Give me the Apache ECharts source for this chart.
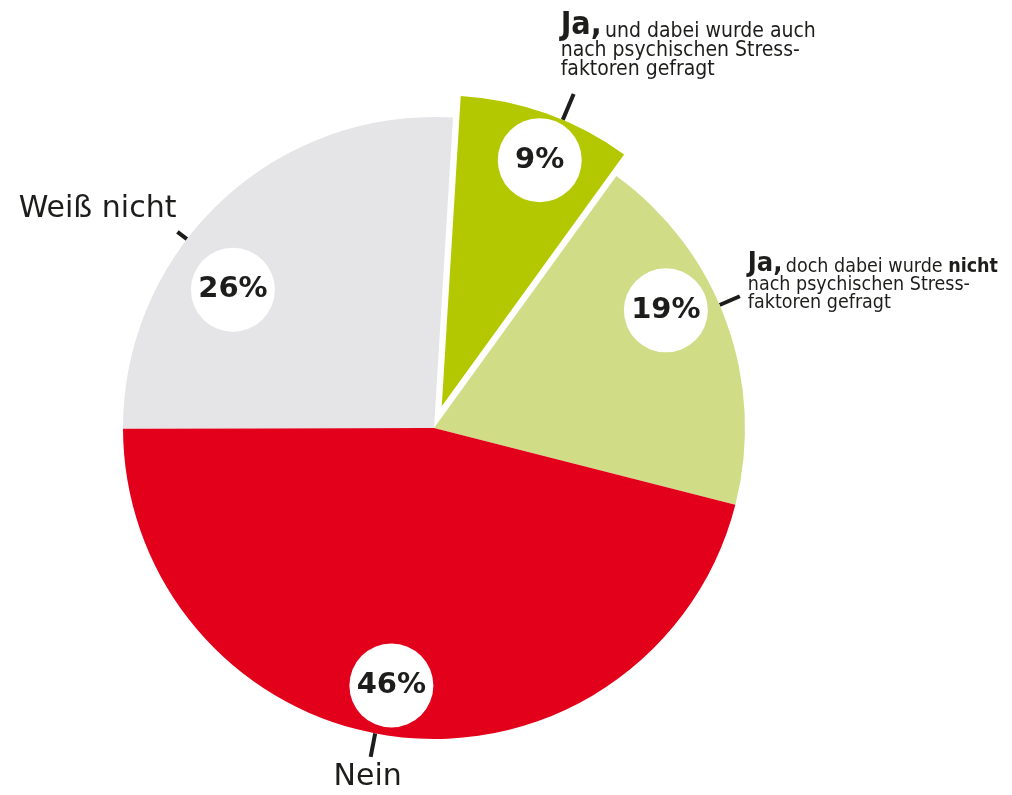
<!DOCTYPE html>
<html>
<head>
<meta charset="utf-8">
<script src="https://cdn.jsdelivr.net/npm/echarts@6/dist/echarts.min.js"></script>
<style>
  html, body { margin: 0; padding: 0; background: #ffffff; }
  #chart { width: 1012px; height: 795px; }
</style>
</head>
<body>
<div id="chart"></div>
<script>
// Survey shares (percent), clockwise from the top
const categories = [
  'Ja, und dabei wurde auch nach psychischen Stressfaktoren gefragt',
  'Ja, doch dabei wurde nicht nach psychischen Stressfaktoren gefragt',
  'Nein',
  'Weiß nicht'
];
const shares = [9, 19, 46, 26];
const sliceColors = ['#b3c800', '#d0dd86', '#e2001a', '#e5e5e8'];

// Outer label texts (rich text markup)
const outerLabels = [
  '{ja|Ja,} {sm|und dabei wurde auch}\n{sm|nach psychischen Stress-}\n{sm|faktoren gefragt}',
  '{ja2|Ja,} {sm2|doch dabei wurde }{smb2|nicht}\n{sm2|nach psychischen Stress-}\n{sm2|faktoren gefragt}',
  '{big|Nein}',
  '{big|Weiß nicht}'
];

// Which slice is pulled out of the pie
const explodedIndex = 0;

// ---- styling / layout ----
const CENTER = [434, 428];
const RADIUS = 311;
const START = 86.5;      // degrees, ECharts convention
const OFFSET = 23;       // pull-out distance of the exploded slice

const tickLength = [28, 22, 24, 12];
const tickShift = [3.2, -3.4, 3.8, -9.3];      // degrees along the rim
const circleShift = [2, -7, 2.3, -12.2];       // degrees along the rim
const circleRadius = [265, 260, 261, 244];     // distance of value badges from centre
const anchors = [
  { dx: -13, dy: -14.5, align: 'left', va: 'bottom' },
  { dx: 8, dy: -13, align: 'left', va: 'middle' },
  { dx: -3, dy: 4, align: 'center', va: 'top' },
  { dx: -1, dy: -6.5, align: 'right', va: 'bottom' }
];

const textColor = '#1d1d1b';
const condFont = "'DejaVu Sans Condensed', 'DejaVu Sans', sans-serif";
const wideFont = "'DejaVu Sans', sans-serif";

const total = shares.reduce((a, b) => a + b, 0);
let before = 0;
for (let i = 0; i < explodedIndex; i++) before += shares[i];
const midDeg = START - (before + shares[explodedIndex] / 2) / total * 360;
const midRad = midDeg * Math.PI / 180;
const CENTER_OUT = [CENTER[0] + OFFSET * Math.cos(midRad), CENTER[1] - OFFSET * Math.sin(midRad)];

function rotateAbout(p, c, deg) {
  const a = deg * Math.PI / 180;
  const vx = p[0] - c[0], vy = p[1] - c[1];
  return [c[0] + vx * Math.cos(a) - vy * Math.sin(a), c[1] + vx * Math.sin(a) + vy * Math.cos(a)];
}

const rich = {
  ja:   { fontSize: 32, fontWeight: 'bold', lineHeight: 28, verticalAlign: 'bottom', color: textColor, fontFamily: condFont },
  sm:   { fontSize: 21, lineHeight: 19, verticalAlign: 'bottom', color: textColor, fontFamily: condFont },
  ja2:  { fontSize: 27, fontWeight: 'bold', lineHeight: 24, verticalAlign: 'bottom', color: textColor, fontFamily: condFont },
  sm2:  { fontSize: 19.5, lineHeight: 18, verticalAlign: 'bottom', color: textColor, fontFamily: condFont },
  smb2: { fontSize: 19.5, lineHeight: 18, fontWeight: 'bold', verticalAlign: 'bottom', color: textColor, fontFamily: condFont },
  big:  { fontSize: 30, lineHeight: 32, color: textColor, fontFamily: wideFont }
};

const hidden = { color: 'rgba(0,0,0,0)' };

// Slices with their outer (name) labels
function sliceSeries(center, inGroup) {
  return {
    type: 'pie',
    center: center,
    radius: [0, RADIUS],
    startAngle: START,
    clockwise: true,
    avoidLabelOverlap: false,
    silent: true,
    emphasis: { disabled: true },
    label: { show: true, position: 'outside', color: textColor, rich: rich },
    labelLine: { show: true, lineStyle: { color: textColor, width: 4 } },
    labelLayout: function (params) {
      const pts = params.labelLinePoints;
      if (!pts) return {};
      const i = params.dataIndex;
      const moved = pts.map(p => rotateAbout(p, center, tickShift[i]));
      const end = moved[moved.length - 1];
      const a = anchors[i];
      return {
        x: end[0] + a.dx,
        y: end[1] + a.dy,
        align: a.align,
        verticalAlign: a.va,
        labelLinePoints: moved
      };
    },
    data: shares.map((v, i) => {
      const on = inGroup(i);
      return {
        name: categories[i],
        value: v,
        itemStyle: on ? { color: sliceColors[i] } : hidden,
        label: on ? { formatter: outerLabels[i] } : { show: false },
        labelLine: on ? { length: tickLength[i], length2: 0 } : { show: false }
      };
    })
  };
}

// White round value badges
function badgeSeries(center, inGroup) {
  return {
    type: 'pie',
    center: center,
    radius: [209, RADIUS],
    startAngle: START,
    clockwise: true,
    avoidLabelOverlap: false,
    silent: true,
    emphasis: { disabled: true },
    itemStyle: hidden,
    label: {
      show: true,
      position: 'inside',
      formatter: '{c}%',
      color: textColor,
      fontFamily: wideFont,
      fontWeight: 'bold',
      fontSize: 29,
      backgroundColor: '#ffffff',
      width: 84,
      height: 84,
      lineHeight: 84,
      borderRadius: 42,
      align: 'center'
    },
    labelLine: { show: false },
    labelLayout: function (params) {
      const r = params.labelRect;
      const i = params.dataIndex;
      const p = rotateAbout([r.x + r.width / 2, r.y + r.height / 2], center, circleShift[i]);
      const vx = p[0] - center[0], vy = p[1] - center[1];
      const len = Math.sqrt(vx * vx + vy * vy) || 1;
      const k = circleRadius[i] / len;
      return {
        x: center[0] + vx * k,
        y: center[1] + vy * k,
        align: 'center',
        verticalAlign: 'middle'
      };
    },
    data: shares.map((v, i) => ({
      name: categories[i],
      value: v,
      label: inGroup(i) ? {} : { show: false }
    }))
  };
}

const chart = echarts.init(document.getElementById('chart'), null, { renderer: 'canvas' });
const isOut = i => i === explodedIndex;
const isIn = i => i !== explodedIndex;

chart.setOption({
  animation: false,
  series: [
    sliceSeries(CENTER, isIn),
    sliceSeries(CENTER_OUT, isOut),
    badgeSeries(CENTER, isIn),
    badgeSeries(CENTER_OUT, isOut)
  ]
});
</script>
</body>
</html>
